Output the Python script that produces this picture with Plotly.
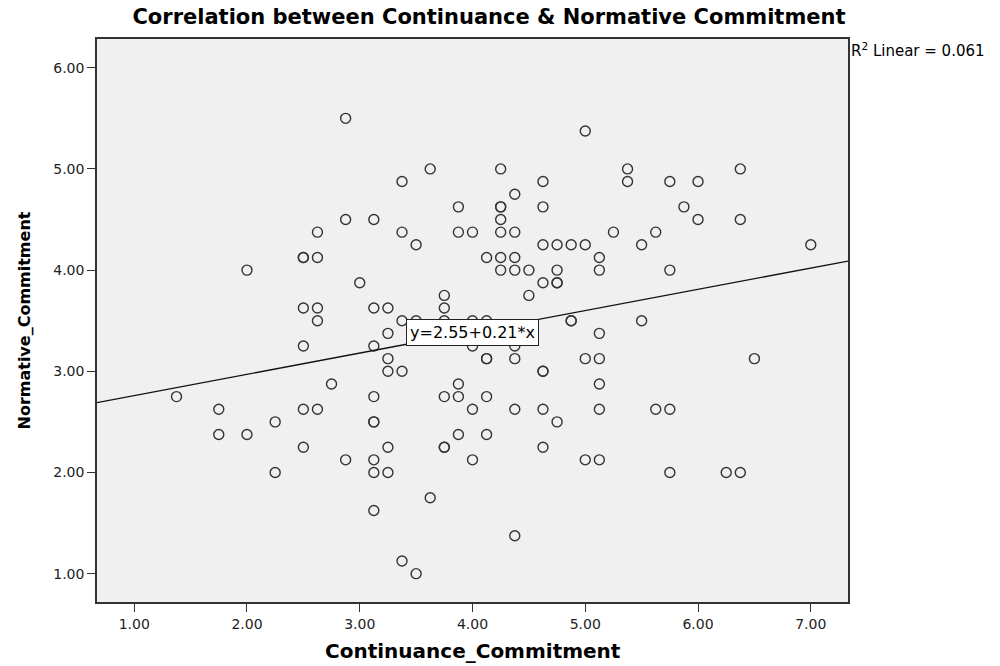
import plotly.graph_objects as go

# Respondent scores (x = continuance, y = normative), listed row by row from top
continuance = [
    2.875,
    5.0,
    3.625, 4.25, 5.375, 6.375,
    3.375, 4.625, 5.375, 5.75, 6.0,
    4.375,
    3.875, 4.25, 4.25, 4.625, 5.875,
    2.875, 3.125, 4.25, 6.0, 6.375,
    2.625, 3.375, 3.875, 4.0, 4.25, 4.375, 5.25, 5.625,
    3.5, 4.625, 4.75, 4.875, 5.0, 5.5, 7.0,
    2.5, 2.5, 2.625, 4.125, 4.25, 4.375, 5.125,
    2.0, 4.25, 4.375, 4.5, 4.75, 5.125, 5.75,
    3.0, 4.625, 4.75, 4.75,
    3.75, 4.5,
    2.5, 2.625, 3.125, 3.25, 3.75,
    2.625, 3.375, 3.5, 3.75, 4.0, 4.125, 4.875, 4.875, 5.5,
    3.25, 5.125,
    2.5, 3.125, 4.0, 4.375,
    3.25, 4.125, 4.125, 4.375, 5.0, 5.125, 6.5,
    3.25, 3.375, 4.625, 4.625,
    2.75, 3.875, 5.125,
    1.375, 3.125, 3.75, 3.875, 4.125,
    1.75, 2.5, 2.625, 4.0, 4.375, 4.625, 5.125, 5.625, 5.75,
    2.25, 3.125, 3.125, 4.75,
    1.75, 2.0, 3.875, 4.125,
    2.5, 3.25, 3.75, 3.75, 4.625,
    2.875, 3.125, 4.0, 5.0, 5.125,
    2.25, 3.125, 3.25, 5.75, 6.25, 6.375,
    3.625,
    3.125,
    4.375,
    3.375,
    3.5,
]
normative = [
    5.5,
    5.375,
    5.0, 5.0, 5.0, 5.0,
    4.875, 4.875, 4.875, 4.875, 4.875,
    4.75,
    4.625, 4.625, 4.625, 4.625, 4.625,
    4.5, 4.5, 4.5, 4.5, 4.5,
    4.375, 4.375, 4.375, 4.375, 4.375, 4.375, 4.375, 4.375,
    4.25, 4.25, 4.25, 4.25, 4.25, 4.25, 4.25,
    4.125, 4.125, 4.125, 4.125, 4.125, 4.125, 4.125,
    4.0, 4.0, 4.0, 4.0, 4.0, 4.0, 4.0,
    3.875, 3.875, 3.875, 3.875,
    3.75, 3.75,
    3.625, 3.625, 3.625, 3.625, 3.625,
    3.5, 3.5, 3.5, 3.5, 3.5, 3.5, 3.5, 3.5, 3.5,
    3.375, 3.375,
    3.25, 3.25, 3.25, 3.25,
    3.125, 3.125, 3.125, 3.125, 3.125, 3.125, 3.125,
    3.0, 3.0, 3.0, 3.0,
    2.875, 2.875, 2.875,
    2.75, 2.75, 2.75, 2.75, 2.75,
    2.625, 2.625, 2.625, 2.625, 2.625, 2.625, 2.625, 2.625, 2.625,
    2.5, 2.5, 2.5, 2.5,
    2.375, 2.375, 2.375, 2.375,
    2.25, 2.25, 2.25, 2.25, 2.25,
    2.125, 2.125, 2.125, 2.125, 2.125,
    2.0, 2.0, 2.0, 2.0, 2.0, 2.0,
    1.75,
    1.625,
    1.375,
    1.125,
    1.0,
]

# Linear fit as reported
intercept = 2.55
slope = 0.21
r_squared = 0.061

x_ticks = [1, 2, 3, 4, 5, 6, 7]
y_ticks = [1, 2, 3, 4, 5, 6]
x_range = [0.67, 7.33]
y_range = [0.72, 6.284]

FONT = "DejaVu Sans"

fig = go.Figure()

fig.add_trace(go.Scatter(
    x=continuance, y=normative, mode="markers",
    marker=dict(symbol="circle-open", size=10, color="#333333",
                line=dict(width=1.4, color="#333333")),
    hoverinfo="x+y", showlegend=False,
))

fit_x = x_range
fit_y = [intercept + slope * v for v in fit_x]
fig.add_trace(go.Scatter(
    x=fit_x, y=fit_y, mode="lines",
    line=dict(color="#111111", width=1.3),
    hoverinfo="skip", showlegend=False,
))

fig.update_layout(
    width=1000, height=666,
    margin=dict(l=97, r=152, t=39, b=64),
    paper_bgcolor="white", plot_bgcolor="#F0F0F0",
    font=dict(family=FONT, color="black", size=14),
    title=dict(
        text="<b>Correlation between Continuance & Normative Commitment</b>",
        x=0.489, xref="container", xanchor="center",
        y=1 - 17 / 666, yref="container", yanchor="middle",
        font=dict(family=FONT, size=21, color="black"),
    ),
)

axis_common = dict(
    showgrid=False, zeroline=False, showline=True, mirror=True,
    linecolor="#333333", linewidth=1.5,
    ticks="outside", ticklen=8, tickwidth=1.3, tickcolor="#333333",
    tickformat=".2f", tickfont=dict(family=FONT, size=14, color="#222222"),
)
fig.update_xaxes(range=x_range, tickvals=x_ticks, **axis_common)
fig.update_yaxes(range=y_range, tickvals=y_ticks, **axis_common)

# Axis titles
fig.add_annotation(
    text="<b>Continuance_Commitment</b>", xref="paper", yref="paper",
    x=0.5, y=-(651 - 602) / 563, xanchor="center", yanchor="middle",
    showarrow=False, font=dict(family=FONT, size=20, color="black"),
)
fig.add_annotation(
    text="<b>Normative_Commitment</b>", xref="paper", yref="paper",
    x=-(97 - 24) / 751, y=0.5, xanchor="center", yanchor="middle",
    textangle=-90, showarrow=False,
    font=dict(family=FONT, size=16, color="black"),
)

# Fit equation label
fig.add_annotation(
    text=f"y={intercept:.2f}+{slope:.2f}*x", x=4.0, y=3.386,
    xref="x", yref="y", showarrow=False,
    font=dict(family=FONT, size=16, color="black"),
    bgcolor="white", bordercolor="#222222", borderwidth=1, borderpad=3,
)

# R-squared note
fig.add_annotation(
    text=f"R<sup>2</sup> Linear = {r_squared:.3f}", xref="paper", yref="paper",
    x=1.0015, y=(602 - 50) / 563, xanchor="left", yanchor="middle",
    showarrow=False, font=dict(family=FONT, size=15, color="black"),
)

fig.write_html("out.html")
